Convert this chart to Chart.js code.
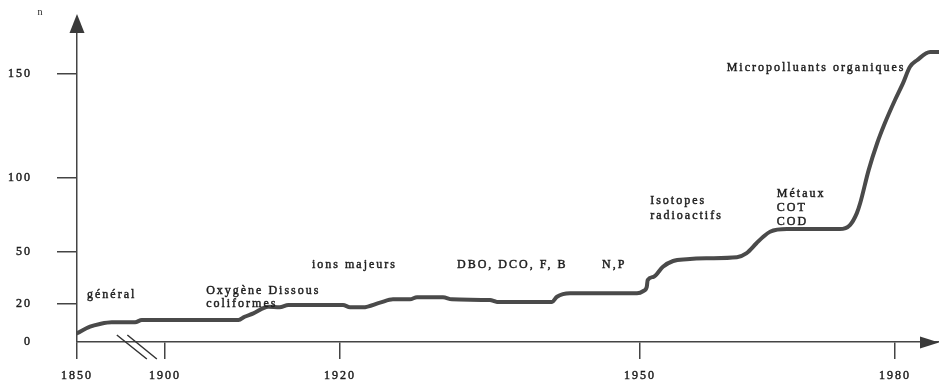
<!DOCTYPE html>
<html><head><meta charset="utf-8">
<script src="https://cdn.jsdelivr.net/npm/chart.js@4.4.1/dist/chart.umd.min.js"></script>
<style>html,body{margin:0;padding:0;background:#fff;}#wrap{width:939px;height:386px;}</style>
</head><body><div id="wrap"><canvas id="c" width="939" height="386"></canvas></div>
<script>
// ---- data ----
const years = [1850, 1857.4, 1863, 1869.7, 1883, 1886.8, 1908.4, 1909.1, 1910.1, 1911.8, 1913.1, 1914.1, 1920.3, 1921.0, 1922.3, 1924.0, 1925.3, 1927.0, 1927.7, 1930.3, 1931.2, 1935.0, 1935.7, 1941.2, 1941.7, 1943.0, 1949.7, 1950.4, 1950.8, 1950.9, 1951.6, 1952.7, 1953.9, 1955.5, 1957.8, 1961.4, 1962.5, 1963.7, 1964.5, 1965.3, 1967.3, 1973.5, 1974.7, 1975.5, 1975.9, 1976.9, 1977.9, 1978.8, 1980, 1980.9, 1981.7, 1982.5, 1984.0, 1985.0];
const counts = [4.6, 8.1, 9.5, 10.4, 10.4, 11.6, 11.6, 13.3, 15.1, 18.6, 18.3, 19.5, 19.5, 18.3, 18.3, 20.8, 22.7, 22.7, 23.9, 23.9, 22.7, 22.3, 21.2, 21.2, 24.2, 26.2, 26.2, 27.5, 30.0, 33.8, 35.7, 41.5, 44.8, 45.8, 46.4, 47.0, 49.2, 55.9, 60.3, 63.7, 65.5, 65.5, 68.2, 76.1, 82.9, 103.8, 116.7, 126.3, 137.5, 145.5, 153.5, 156.7, 160.7, 160.7];
const xTickYears = [1850, 1900, 1920, 1950, 1980];
const yTickValues = [0, 20, 50, 100, 150];
const labelTexts = ['général', 'Oxygène Dissous', 'coliformes', 'ions majeurs', 'DBO, DCO, F, B', 'N,P', 'Isotopes', 'radioactifs', 'Métaux', 'COT', 'COD', 'Micropolluants organiques'];
const labelYears = [1855.7, 1904.7, 1904.7, 1916.8, 1931.7, 1946.2, 1951.2, 1951.2, 1966.1, 1966.1, 1966.1, 1960.2];
const labelCounts = [23.5, 25.8, 18.4, 40.8, 40.5, 40.5, 82.4, 72.3, 87.2, 77.9, 68.3, 151.4];
const axisTitle = 'n';

// ---- hand-drawn, non-uniform axes: value knots and relative lengths ----
const xKnotValues = [1850, 1900, 1920, 1950, 1980, 1985];
const xKnotLengths = [0, 88, 263, 563, 818, 862];
const yKnotValues = [0, 20, 50, 100, 150, 170];
const yKnotLengths = [0, 38, 90, 164, 268, 309];
const breakYear = 1884;

function interp(v, xs, ys) {
  const n = xs.length;
  let i = 0;
  if (v <= xs[0]) i = 0;
  else if (v >= xs[n - 1]) i = n - 2;
  else { while (v > xs[i + 1]) i++; }
  return ys[i] + (v - xs[i]) * (ys[i + 1] - ys[i]) / (xs[i + 1] - xs[i]);
}
function makeScale(id, vals, lens) {
  class S extends Chart.LinearScale {
    getPixelForValue(v) {
      const a = interp(this.min, vals, lens), b = interp(this.max, vals, lens);
      return this.getPixelForDecimal((interp(v, vals, lens) - a) / (b - a));
    }
    getValueForPixel(p) {
      const a = interp(this.min, vals, lens), b = interp(this.max, vals, lens);
      return interp(a + this.getDecimalForPixel(p) * (b - a), lens, vals);
    }
  }
  S.id = id;
  S.defaults = {};
  return S;
}
Chart.register(makeScale('pwx', xKnotValues, xKnotLengths), makeScale('pwy', yKnotValues, yKnotLengths));

const FONT = "'Liberation Serif', 'DejaVu Serif', serif";
const INK = '#1e1e1e';
const AXIS = '#444';

const decor = {
  id: 'decor',
  beforeDraw(chart) { chart.ctx.letterSpacing = '2px'; },
  afterDraw(chart) {
    const ctx = chart.ctx, xs = chart.scales.x, ys = chart.scales.y, ca = chart.chartArea;
    ctx.save();
    // y arrow
    ctx.fillStyle = '#3a3a3a';
    ctx.beginPath();
    ctx.moveTo(ca.left, 14); ctx.lineTo(ca.left - 7.5, ca.top); ctx.lineTo(ca.left + 7.5, ca.top); ctx.closePath(); ctx.fill();
    // x arrow
    const yb = ys.getPixelForValue(0);
    ctx.beginPath();
    ctx.moveTo(ca.right, yb + 0.5); ctx.lineTo(ca.right - 19, yb - 5.5); ctx.lineTo(ca.right - 19, yb + 6.5); ctx.closePath(); ctx.fill();
    // axis break marks
    const cx = xs.getPixelForValue(breakYear);
    ctx.strokeStyle = '#333'; ctx.lineWidth = 1.5;
    ctx.beginPath();
    ctx.moveTo(cx - 20, yb - 7); ctx.lineTo(cx + 10, yb + 17);
    ctx.moveTo(cx - 9.5, yb - 7); ctx.lineTo(cx + 20, yb + 17);
    ctx.stroke();
    // axis title
    ctx.letterSpacing = '0px';
    ctx.fillStyle = INK; ctx.font = '10px ' + FONT; ctx.textAlign = 'center'; ctx.textBaseline = 'alphabetic';
    ctx.fillText(axisTitle, ca.left - 37, 15);
    // annotations
    ctx.letterSpacing = '2px';
    ctx.font = '12px ' + FONT; ctx.textAlign = 'left';
    ctx.strokeStyle = INK; ctx.lineWidth = 0.45;
    labelTexts.forEach((t, i) => {
      const px = xs.getPixelForValue(labelYears[i]), py = ys.getPixelForValue(labelCounts[i]);
      ctx.fillText(t, px, py);
      ctx.strokeText(t, px, py);
    });
    ctx.restore();
  }
};

new Chart(document.getElementById('c'), {
  type: 'line',
  data: {
    datasets: [{
      data: years.map((y, i) => ({ x: y, y: counts[i] })),
      borderColor: '#4a4a4a',
      borderWidth: 4,
      pointRadius: 0,
      cubicInterpolationMode: 'monotone',
      borderJoinStyle: 'round',
      borderCapStyle: 'round',
      fill: false
    }]
  },
  options: {
    responsive: false,
    animation: false,
    devicePixelRatio: 1,
    layout: { padding: { top: 33, right: 0, left: 0, bottom: 0 } },
    plugins: { legend: { display: false }, tooltip: { enabled: false } },
    scales: {
      x: {
        type: 'pwx', position: 'bottom', min: 1850, max: 1985,
        afterBuildTicks: s => { s.ticks = xTickYears.map(v => ({ value: v })); },
        afterFit: s => { s.height = 44; },
        border: { display: true, color: AXIS, width: 1.5 },
        grid: { drawOnChartArea: false, drawTicks: true, tickLength: 17, color: AXIS, lineWidth: 1.5 },
        ticks: { autoSkip: false, maxRotation: 0, padding: 10, color: INK, textStrokeColor: INK, textStrokeWidth: 0.45,
                 font: { family: FONT, size: 12 }, callback: v => String(v) }
      },
      y: {
        type: 'pwy', position: 'left', min: 0, max: 170,
        afterBuildTicks: s => { s.ticks = yTickValues.map(v => ({ value: v })); },
        afterFit: s => { s.width = 77; },
        border: { display: true, color: AXIS, width: 1.5 },
        grid: { drawOnChartArea: false, drawTicks: true, tickLength: 20, lineWidth: 1.5,
                color: c => (c.tick && c.tick.value === 0) ? 'rgba(0,0,0,0)' : AXIS },
        ticks: { autoSkip: false, padding: 25, color: INK, textStrokeColor: INK, textStrokeWidth: 0.45,
                 font: { family: FONT, size: 12 }, callback: v => String(v) }
      }
    }
  },
  plugins: [decor]
});
</script></body></html>
